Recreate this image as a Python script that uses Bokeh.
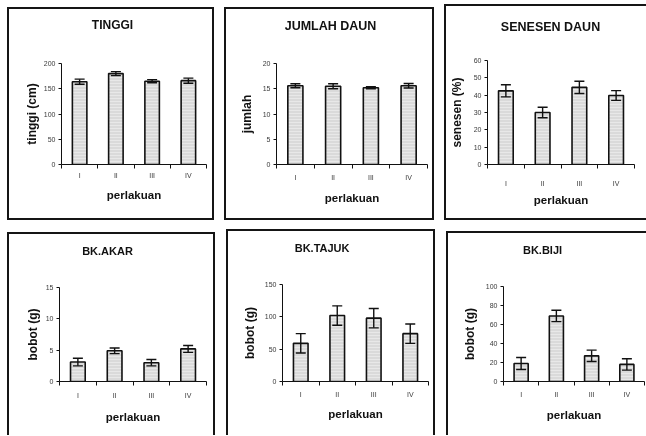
from bokeh.plotting import figure
from bokeh.layouts import column, row
from bokeh.models import (ColumnDataSource, Range1d, FixedTicker, SingleIntervalTicker,
                          Whisker, TeeHead, Title)
from bokeh.embed import file_html
from bokeh.resources import INLINE

# ---------------- data ----------------
perlakuan = ["I", "II", "III", "IV"]

tinggi = [164, 180, 165, 166]
tinggi_err = [5, 4, 3, 5]

jumlah = [15.6, 15.5, 15.2, 15.6]
jumlah_err = [0.4, 0.5, 0.2, 0.45]

senesen = [42.5, 30.0, 44.5, 39.8]
senesen_err = [3.5, 3.0, 3.5, 2.8]

bk_akar = [3.1, 4.9, 3.0, 5.2]
bk_akar_err = [0.6, 0.45, 0.5, 0.55]

bk_tajuk = [59, 102, 98, 74]
bk_tajuk_err = [15, 15, 15, 15]

bk_biji = [19, 69, 27, 18]
bk_biji_err = [6.3, 6.0, 6.0, 6.0]

FONT = "Liberation Sans"
BW = 2  # panel border width

# approximate bold-Arial advance widths (em) to centre titles
_W = {"A": .722, "B": .722, "D": .722, "E": .667, "G": .778, "H": .722, "I": .278,
      "J": .556, "K": .722, "L": .611, "M": .833, "N": .722, "R": .722, "S": .667,
      "T": .611, "U": .722, " ": .278, ".": .278}


def text_w(s, fs):
    return sum(_W.get(c, .6) for c in s) * fs


def panel(title, ylabel, vals, errs, ymax, step, box, frame, borders,
          title_c, title_fs, cat_std, xl_std, yl_std, gap):
    bx, by, w, h = box
    fl, fr, ft, fb = frame
    bt, br, bb, bl = borders
    ml = fl - bx - bl * BW
    mr = (bx + w - br * BW) - fr
    mt = ft - by - bt * BW
    mb = (by + h - bb * BW) - fb

    xs = [i + 1 for i in range(len(perlakuan))]
    src = ColumnDataSource(dict(
        x=xs, top=vals,
        upper=[v + e for v, e in zip(vals, errs)],
        lower=[v - e for v, e in zip(vals, errs)],
    ))
    side = lambda f: f"{BW}px solid #151515" if f else "none"
    css = {"border-top": side(bt), "border-right": side(br),
           "border-bottom": side(bb), "border-left": side(bl),
           "box-sizing": "border-box", "filter": "grayscale(100%)"}
    p = figure(width=w, height=h, output_backend="svg", toolbar_location=None,
               x_range=Range1d(0.5, len(perlakuan) + 0.5), y_range=Range1d(0, ymax),
               min_border_left=ml, min_border_right=mr, min_border_top=mt,
               min_border_bottom=mb, styles=css, margin=gap)
    p.outline_line_color = None
    p.grid.visible = False
    p.background_fill_color = "white"
    p.border_fill_color = "white"

    p.vbar(x="x", top="top", width=0.4, source=src, fill_color="#dadada",
           line_color="#111111", line_width=1.6,
           hatch_pattern="horizontal_line", hatch_color="#e8e8e8",
           hatch_scale=3, hatch_weight=1)
    wh = Whisker(source=src, base="x", upper="upper", lower="lower",
                 line_color="#111111", line_width=1.4, level="overlay",
                 upper_head=TeeHead(size=10, line_width=1.4, line_color="#111111"),
                 lower_head=TeeHead(size=10, line_width=1.4, line_color="#111111"))
    p.add_layout(wh)

    # title: outermost above-panel item, plus a thin spacer between it and the frame
    tcx, tcy = title_c
    th = 1.15 * title_fs
    cy = tcy - by - bt * BW
    s1 = max(0.0, 2 * (cy - 2 - th / 2))
    s2 = max(0.0, mt - (2 + th + s1) - 3.2)
    p.add_layout(Title(text=" ", text_font_size="1px", standoff=s2), "above")
    p.title.text = title
    p.title.align = "left"
    p.title.offset = (tcx - text_w(title, title_fs) / 2) - fl
    p.title.standoff = s1
    p.title.text_font = FONT
    p.title.text_font_size = f"{title_fs}px"
    p.title.text_font_style = "bold"
    p.title.text_color = "#111111"

    xa = p.xaxis[0]
    xa.ticker = FixedTicker(ticks=xs, minor_ticks=[x + 0.5 for x in [0] + xs])
    xa.major_label_overrides = {x: c for x, c in zip(xs, perlakuan)}
    xa.major_tick_out = 0
    xa.major_tick_in = 0
    xa.minor_tick_out = 4
    xa.minor_tick_in = 0
    xa.major_label_standoff = cat_std
    xa.axis_label = "perlakuan"
    xa.axis_label_standoff = xl_std

    ya = p.yaxis[0]
    ya.ticker = SingleIntervalTicker(interval=step, num_minor_ticks=0)
    ya.major_tick_out = 3
    ya.major_tick_in = 0
    ya.major_label_standoff = 3
    ya.axis_label = ylabel
    ya.axis_label_standoff = yl_std

    for ax in (xa, ya):
        ax.axis_line_color = "#111111"
        ax.axis_line_width = 1
        ax.major_tick_line_color = "#111111"
        ax.minor_tick_line_color = "#111111"
        ax.major_label_text_font = FONT
        ax.major_label_text_font_size = "7px"
        ax.major_label_text_color = "#3a3a3a"
        ax.axis_label_text_font = FONT
        ax.axis_label_text_font_style = "bold"
        ax.axis_label_text_color = "#111111"
    xa.axis_label_text_font_size = "11.5px"
    ya.axis_label_text_font_size = "12px"
    return p


# box = (x, y, w, h) ; frame = (left, right, top, bottom) in page pixels
p1 = panel("TINGGI", "tinggi (cm)", tinggi, tinggi_err, 200, 50,
           (7, 7, 207, 213), (61, 202, 63, 162), (1, 1, 1, 1),
           (112, 25), 12, 3, 7, 2, (7, 0, 0, 7))
p2 = panel("JUMLAH DAUN", "jumlah", jumlah, jumlah_err, 20, 5,
           (224, 7, 210, 213), (276, 423, 63, 160), (1, 1, 1, 1),
           (330, 25), 12.5, 5, 8, 6, (7, 0, 0, 10))
p3 = panel("SENESEN DAUN", "senesen (%)", senesen, senesen_err, 60, 10,
           (444, 4, 202, 216), (485, 632, 59, 164), (1, 0, 1, 1),
           (548, 25), 12.5, 11, 4, 7, (4, 0, 0, 10))
p4 = panel("BK.AKAR", "bobot (g)", bk_akar, bk_akar_err, 15, 5,
           (7, 232, 208, 203), (59, 202, 287, 379), (1, 1, 0, 1),
           (107, 250), 11, 6, 9, 3, (12, 0, 0, 7))
p5 = panel("BK.TAJUK", "bobot (g)", bk_tajuk, bk_tajuk_err, 150, 50,
           (226, 229, 209, 206), (282, 424, 284, 380), (1, 1, 0, 1),
           (322, 247), 11, 5, 7, 5, (9, 0, 0, 11))
p6 = panel("BK.BIJI", "bobot (g)", bk_biji, bk_biji_err, 100, 20,
           (446, 231, 200, 204), (503, 642, 286, 380), (1, 0, 0, 1),
           (542, 249), 11, 5, 8, 6, (11, 0, 0, 11))

layout = column(row(p1, p2, p3, spacing=0), row(p4, p5, p6, spacing=0), spacing=0)

open("out.html", "w").write(file_html(layout, INLINE))
